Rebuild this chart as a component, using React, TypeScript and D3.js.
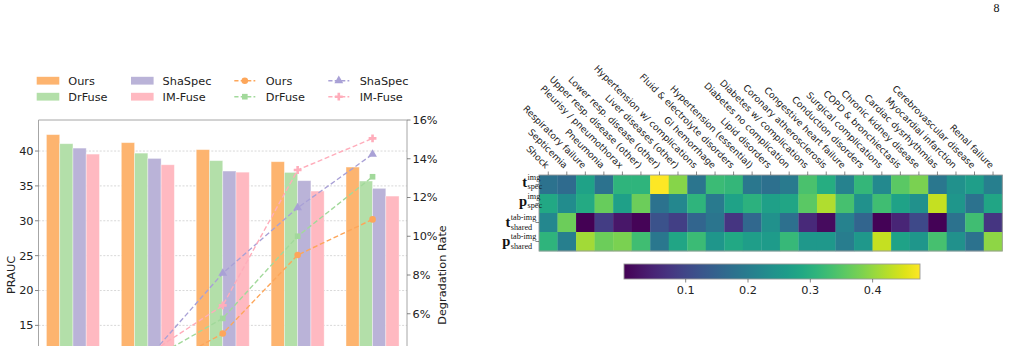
import React from "react";
import * as d3 from "d3";

const W = 1014;
const H = 346;

// ---------- grouped bars (PRAUC) + degradation lines ----------
const methods = ["Ours", "DrFuse", "ShaSpec", "IM-Fuse"];
const groupIndex = [0, 1, 2, 3, 4];

const praucOurs = [42.35, 41.2, 40.2, 38.47, 37.7];
const praucDrFuse = [41.05, 39.7, 38.62, 36.93, 35.7];
const praucShaSpec = [40.42, 38.94, 37.13, 35.75, 34.65];
const praucIMFuse = [39.56, 38.03, 36.97, 34.26, 33.54];

const degradOurs = [0, 2.85, 4.98, 9.03, 10.87];
const degradDrFuse = [0, 3.55, 5.76, 10.0, 13.07];
const degradShaSpec = [0, 3.7, 8.09, 11.47, 14.23];
const degradIMFuse = [0, 3.9, 6.43, 13.42, 15.05];

const praucTicks = [0, 5, 10, 15, 20, 25, 30, 35, 40];
const degradTicks = [0, 2, 4, 6, 8, 10, 12, 14, 16];

const barColors = ["#fdb46f", "#b3dfa9", "#bab3d8", "#ffb9c1"];
const lineColors = ["#fda65a", "#a2d99b", "#a9a1d6", "#ffadbb"];

// ---------- heatmap ----------
const diseases = [
  "Shock",
  "Septicemia",
  "Respiratory failure",
  "Pneumonia",
  "Pleurisy / pneumothorax",
  "Upper resp. disease (other)",
  "Lower resp. disease (other)",
  "Liver diseases (other)",
  "Hypertension w/ complications",
  "GI hemorrhage",
  "Fluid & electrolyte disorders",
  "Hypertension (essential)",
  "Lipid disorders",
  "Diabetes no complication",
  "Diabetes w/ complications",
  "Coronary atherosclerosis",
  "Congestive heart failure",
  "Conduction disorders",
  "Surgical complications",
  "COPD & bronchiectasis",
  "Chronic kidney disease",
  "Cardiac dysrhythmias",
  "Myocardial infarction",
  "Cerebrovascular disease",
  "Renal failure",
];

const rowBase = ["t", "p", "t", "p"];
const rowSup = ["img", "img", "tab-img", "tab-img"];
const rowSub = ["spec", "spec", "shared", "shared"];

const tSpecImg = [0.18, 0.165, 0.275, 0.18, 0.31, 0.31, 0.476, 0.39, 0.185, 0.325, 0.315, 0.19, 0.175, 0.195, 0.34, 0.295, 0.21, 0.315, 0.225, 0.355, 0.38, 0.19, 0.24, 0.265, 0.205];
const pSpecImg = [0.285, 0.23, 0.29, 0.365, 0.27, 0.37, 0.18, 0.22, 0.31, 0.195, 0.275, 0.305, 0.27, 0.28, 0.355, 0.42, 0.335, 0.24, 0.33, 0.275, 0.24, 0.435, 0.25, 0.18, 0.28];
const tSharedTabImg = [0.22, 0.37, 0.001, 0.085, 0.03, 0.005, 0.12, 0.09, 0.155, 0.185, 0.075, 0.16, 0.24, 0.175, 0.055, 0.015, 0.21, 0.155, 0.003, 0.05, 0.105, 0.004, 0.18, 0.33, 0.075];
const pSharedTabImg = [0.31, 0.205, 0.41, 0.37, 0.38, 0.33, 0.19, 0.28, 0.325, 0.25, 0.285, 0.265, 0.26, 0.32, 0.255, 0.255, 0.2, 0.255, 0.435, 0.275, 0.25, 0.335, 0.24, 0.18, 0.395];

const colorbarTicks = [0.1, 0.2, 0.3, 0.4];

const SANS = "'DejaVu Sans', sans-serif";
const SERIF = "'Liberation Serif', 'DejaVu Serif', serif";

function Marker({ kind, cx, cy, color }: { kind: number; cx: number; cy: number; color: string }) {
  const types = [d3.symbolCircle, d3.symbolSquare, d3.symbolTriangle, d3.symbolCross];
  const sizes = [34, 32, 34, 34];
  const path = d3.symbol().type(types[kind]).size(sizes[kind])() as string;
  return <path d={path} transform={`translate(${cx},${cy})`} fill={color} stroke="none" />;
}

export default function App() {
  // left chart
  const x = d3.scaleLinear().domain([-0.46, 4.46]).range([38.5, 407]);
  const yL = d3.scaleLinear().domain([0, 44.45]).range([430, 120]);
  const yR = d3.scaleLinear().domain([0, 16]).range([430, 120]);
  const barW = 0.177;
  const prauc = [praucOurs, praucDrFuse, praucShaSpec, praucIMFuse];
  const degrad = [degradOurs, degradDrFuse, degradShaSpec, degradIMFuse];
  const line = d3
    .line<number>()
    .x((_, i) => x(groupIndex[i]))
    .y((d) => yR(d));
  const [plotL, plotR] = x.range();
  const plotT = 120;
  const plotB = 430;
  // tick labels that fall below the page edge are not drawn
  const shownLeft = praucTicks.filter((t) => yL(t) < H - 8);
  const shownRight = degradTicks.filter((t) => yR(t) < H - 8);

  // heatmap
  const rows = [tSpecImg, pSpecImg, tSharedTabImg, pSharedTabImg];
  const all = rows.flat();
  const ext = d3.extent(all) as [number, number];
  const color = d3.scaleSequential(d3.interpolateViridis).domain(ext);
  const xH = d3.scaleBand<number>().domain(d3.range(diseases.length)).range([539, 1002.3]);
  const yH = d3.scaleBand<number>().domain(d3.range(rows.length)).range([175, 251]);
  const cb = d3.scaleLinear().domain(ext).range([624, 920]);
  const cbT = 264;
  const cbH = 15;
  const gradStops = d3.range(0, 1.0001, 0.05);

  const legendRows = [80.7, 96.7];
  const legendBarCols = [36.7, 131];
  const legendLineCols = [234.3, 328.3];

  return (
    <svg
      width={W}
      height={H}
      style={{ position: "absolute", left: 0, top: 0, background: "#fff" }}
      fontFamily={SANS}
    >
      <defs>
        <linearGradient id="viridis-bar" x1="0" x2="1" y1="0" y2="0">
          {gradStops.map((t) => (
            <stop key={t} offset={`${t * 100}%`} stopColor={d3.interpolateViridis(t)} />
          ))}
        </linearGradient>
      </defs>

      {/* page number */}
      <text x={996.5} y={11.5} fontFamily={SERIF} fontSize={12} textAnchor="middle" fill="#111">
        8
      </text>

      {/* ===== left chart ===== */}
      {/* grid */}
      {praucTicks.map((t) => (
        <line
          key={`g${t}`}
          x1={plotL}
          x2={plotR}
          y1={yL(t)}
          y2={yL(t)}
          stroke="#d4d4d4"
          strokeWidth={0.9}
          strokeDasharray="2,1.6"
        />
      ))}
      {/* bars */}
      {prauc.map((vals, k) =>
        vals.map((v, g) => {
          const off = (k - 1.5) * barW;
          const x0 = x(groupIndex[g] + off - barW / 2);
          const x1 = x(groupIndex[g] + off + barW / 2);
          return (
            <rect
              key={`b${k}-${g}`}
              x={x0}
              y={yL(v)}
              width={x1 - x0}
              height={yL(0) - yL(v)}
              fill={barColors[k]}
              stroke="#ffffff"
              strokeOpacity={0.45}
              strokeWidth={0.8}
            />
          );
        })
      )}
      {/* lines */}
      {degrad.map((vals, k) => (
        <g key={`l${k}`}>
          <path d={line(vals) as string} fill="none" stroke={lineColors[k]} strokeWidth={1.4} strokeDasharray="5,2.6" />
          {vals.map((v, g) => (
            <Marker key={g} kind={k} cx={x(groupIndex[g])} cy={yR(v)} color={lineColors[k]} />
          ))}
        </g>
      ))}
      {/* spines */}
      <line x1={plotL} x2={plotR} y1={plotT} y2={plotT} stroke="#a6a6a6" strokeWidth={1} />
      <line x1={plotL} x2={plotL} y1={plotT} y2={plotB} stroke="#a6a6a6" strokeWidth={1} />
      <line x1={plotR} x2={plotR} y1={plotT} y2={plotB} stroke="#a6a6a6" strokeWidth={1} />
      {/* left ticks */}
      {shownLeft.map((t) => (
        <g key={`lt${t}`}>
          <line x1={plotL - 3.5} x2={plotL} y1={yL(t)} y2={yL(t)} stroke="#666" strokeWidth={0.8} />
          <text x={plotL - 5} y={yL(t)} dy="0.35em" textAnchor="end" fontSize={11.3} fill="#222">
            {t}
          </text>
        </g>
      ))}
      {/* right ticks */}
      {shownRight.map((t) => (
        <g key={`rt${t}`}>
          <line x1={plotR} x2={plotR + 3.5} y1={yR(t)} y2={yR(t)} stroke="#666" strokeWidth={0.8} />
          <text x={plotR + 5.5} y={yR(t)} dy="0.35em" textAnchor="start" fontSize={11.3} fill="#222">
            {`${t}%`}
          </text>
        </g>
      ))}
      <text
        transform={`translate(15,${(plotT + plotB) / 2}) rotate(-90)`}
        textAnchor="middle"
        fontSize={11.3}
        fill="#222"
      >
        PRAUC
      </text>
      <text
        transform={`translate(445.5,${(plotT + plotB) / 2}) rotate(-90)`}
        textAnchor="middle"
        fontSize={11.3}
        fill="#222"
      >
        Degradation Rate
      </text>

      {/* legend */}
      {methods.map((m, k) => {
        const col = Math.floor(k / 2);
        const row = k % 2;
        const lx = legendBarCols[col];
        const ly = legendRows[row];
        return (
          <g key={`lb${k}`}>
            <rect x={lx} y={ly - 3.9} width={22.6} height={7.8} fill={barColors[k]} />
            <text x={lx + 31.6} y={ly} dy="0.35em" fontSize={11.3} fill="#222">
              {m}
            </text>
          </g>
        );
      })}
      {methods.map((m, k) => {
        const col = Math.floor(k / 2);
        const row = k % 2;
        const lx = legendLineCols[col];
        const ly = legendRows[row];
        return (
          <g key={`ll${k}`}>
            <line x1={lx} x2={lx + 21} y1={ly} y2={ly} stroke={lineColors[k]} strokeWidth={1.4} strokeDasharray="4.2,2.2" />
            <Marker kind={k} cx={lx + 10.5} cy={ly} color={lineColors[k]} />
            <text x={lx + 31.4} y={ly} dy="0.35em" fontSize={11.3} fill="#222">
              {m}
            </text>
          </g>
        );
      })}

      {/* ===== heatmap ===== */}
      {rows.map((vals, r) =>
        vals.map((v, c) => (
          <rect
            key={`c${r}-${c}`}
            x={xH(c)}
            y={yH(r)}
            width={xH.bandwidth() + 0.3}
            height={yH.bandwidth() + 0.3}
            fill={color(v)}
          />
        ))
      )}
      <rect
        x={xH.range()[0]}
        y={yH.range()[0]}
        width={xH.range()[1] - xH.range()[0]}
        height={yH.range()[1] - yH.range()[0]}
        fill="none"
        stroke="#9a9a9a"
        strokeWidth={0.9}
      />
      {/* column ticks + labels */}
      {diseases.map((d, c) => {
        const cx = (xH(c) as number) + xH.bandwidth() / 2;
        return (
          <g key={`d${c}`}>
            <line x1={cx} x2={cx} y1={175} y2={171.5} stroke="#555" strokeWidth={0.7} />
            <text
              transform={`translate(${cx - 3},${169}) rotate(45)`}
              textAnchor="end"
              fontSize={9.2}
              fill="#222"
            >
              {d}
            </text>
          </g>
        );
      })}
      {/* row ticks + labels (bold symbol with super/subscript stack) */}
      {rowBase.map((b, r) => {
        const cy = (yH(r) as number) + yH.bandwidth() / 2;
        const wide = rowSup[r].length > 3;
        const sx = wide ? 510.8 : 527.6;
        const baseY = wide ? cy + 4.5 : cy + 2;
        const supY = wide ? cy - 2.2 : cy - 4.4;
        const subY = wide ? cy + 7.2 : cy + 4.6;
        const fs = 8.2;
        return (
          <g key={`r${r}`}>
            <line x1={539} x2={535.5} y1={cy} y2={cy} stroke="#555" strokeWidth={0.7} />
            <text x={sx - 0.4} y={baseY} textAnchor="end" fontFamily={SERIF} fontWeight="bold" fontSize={14.5} fill="#111">
              {b}
            </text>
            <text x={sx} y={supY} fontFamily={SERIF} fontSize={fs} fill="#111">
              {rowSup[r]}
            </text>
            <text x={sx} y={subY} fontFamily={SERIF} fontSize={fs} fill="#111">
              {rowSub[r]}
            </text>
          </g>
        );
      })}

      {/* colorbar */}
      <rect x={cb.range()[0]} y={cbT} width={cb.range()[1] - cb.range()[0]} height={cbH} fill="url(#viridis-bar)" />
      <rect
        x={cb.range()[0]}
        y={cbT}
        width={cb.range()[1] - cb.range()[0]}
        height={cbH}
        fill="none"
        stroke="#9a9a9a"
        strokeWidth={0.9}
      />
      {colorbarTicks.map((t) => (
        <g key={`cb${t}`}>
          <line x1={cb(t)} x2={cb(t)} y1={cbT + cbH} y2={cbT + cbH + 3.5} stroke="#555" strokeWidth={0.7} />
          <text x={cb(t)} y={290} dy="0.35em" textAnchor="middle" fontSize={11.3} fill="#222">
            {t.toFixed(1)}
          </text>
        </g>
      ))}
    </svg>
  );
}
